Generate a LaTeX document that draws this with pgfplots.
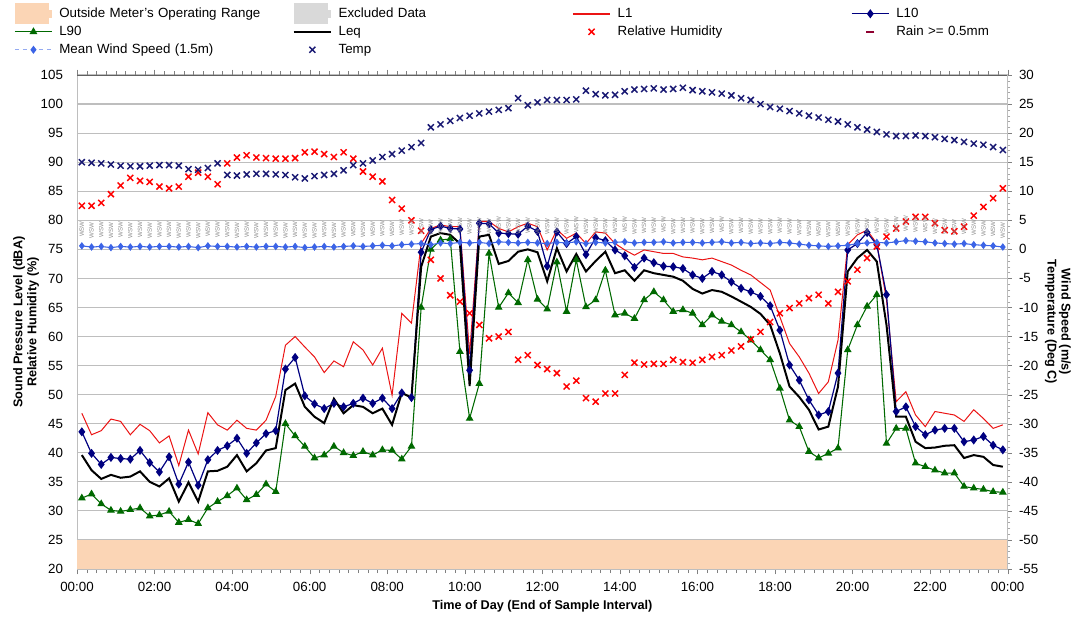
\documentclass[border=0pt]{standalone}
\usepackage{fontspec}
\setmainfont{Liberation Sans}
\usepackage{pgfplots}
\usepackage{pgfplotstable}
\pgfplotsset{compat=1.18}

\definecolor{bandorange}{RGB}{251,213,181}
\definecolor{lnavy}{RGB}{0,0,128}
\definecolor{lgreen}{RGB}{0,105,0}
\definecolor{tnavy}{RGB}{25,25,115}
\definecolor{wblue}{RGB}{60,100,230}
\definecolor{gridgray}{RGB}{190,190,190}
\definecolor{lred}{RGB}{235,20,20}

% 15-minute intervals, i = 1..96 (end of interval)
% L1 L10 L90 Leq in dBA, RH in %, Temp in deg C, Wind in m/s
\pgfplotstableread{
i L1 L10 L90 Leq RH Temp Wind
1 46.8 43.6 32.2 39.6 82.5 15.0 0.6
2 43.1 39.9 32.9 37.0 82.5 14.9 0.4
3 43.8 38.0 31.2 35.5 83.0 14.8 0.5
4 45.8 39.2 30.1 36.2 84.5 14.6 0.3
5 45.4 39.0 29.9 35.7 86.0 14.4 0.5
6 43.1 38.9 30.2 35.9 87.3 14.3 0.4
7 44.9 40.4 30.5 36.8 86.8 14.3 0.5
8 43.8 38.3 29.1 35.0 86.6 14.4 0.4
9 41.7 36.7 29.3 34.2 85.8 14.5 0.5
10 42.9 39.3 29.9 35.6 85.5 14.5 0.5
11 37.8 34.6 28.0 31.6 85.8 14.4 0.4
12 43.9 38.4 28.5 34.9 87.5 13.8 0.5
13 39.8 34.4 27.8 31.6 88.2 13.7 0.3
14 46.9 38.8 30.5 36.8 87.5 14.0 0.6
15 44.8 40.4 31.6 36.9 86.2 14.8 0.5
16 43.9 41.2 32.6 37.6 89.8 12.8 0.5
17 45.6 42.5 33.9 39.6 90.8 12.7 0.4
18 44.2 39.9 31.9 36.8 91.2 12.9 0.5
19 43.9 41.7 32.8 38.2 90.8 13.0 0.4
20 45.6 43.3 34.6 40.4 90.7 13.0 0.5
21 49.7 43.8 33.3 40.8 90.6 12.9 0.5
22 58.5 54.4 45.0 50.8 90.6 12.8 0.4
23 60.0 56.4 42.9 51.9 90.7 12.4 0.5
24 58.2 49.8 41.1 47.9 91.7 12.2 0.3
25 56.5 48.4 39.1 46.2 91.8 12.6 0.4
26 53.8 47.6 39.6 45.1 91.4 12.8 0.5
27 55.8 48.5 41.1 49.3 90.9 13.0 0.4
28 54.8 47.9 40.0 46.8 91.7 13.6 0.5
29 59.1 48.5 39.5 48.2 90.6 14.5 0.6
30 57.7 49.4 40.2 47.9 88.4 14.8 0.5
31 55.1 48.5 39.6 46.8 87.5 15.3 0.6
32 58.0 49.4 40.5 47.6 86.7 15.9 0.7
33 49.9 47.6 40.4 44.8 83.5 16.4 0.6
34 64.0 50.3 38.9 50.3 82.0 17.0 0.8
35 62.3 49.5 41.1 49.5 80.0 17.6 0.9
36 76.0 74.5 65.0 72.0 78.2 18.3 1.0
37 78.6 78.4 75.0 77.2 73.2 21.0 0.8
38 79.2 79.0 76.6 77.8 70.0 21.5 1.1
39 78.9 78.6 76.8 77.5 67.1 22.1 1.0
40 78.9 78.5 57.4 76.0 66.0 22.6 1.2
41 57.0 54.2 45.9 51.5 64.0 23.0 1.1
42 79.8 79.5 51.9 77.2 62.0 23.4 1.2
43 79.8 79.4 74.3 77.5 59.7 23.7 1.0
44 78.6 77.8 65.0 72.5 60.0 24.0 1.3
45 78.0 77.7 67.5 73.0 60.8 24.3 1.2
46 78.9 77.6 65.8 74.6 56.0 26.0 1.1
47 79.5 79.0 73.2 75.0 56.8 24.8 1.2
48 78.9 78.1 66.4 74.5 55.1 25.3 1.1
49 74.9 72.1 64.7 69.5 54.4 25.7 1.0
50 78.4 78.0 72.8 75.2 53.7 25.7 1.2
51 76.9 76.0 64.3 71.2 51.4 25.7 1.1
52 77.8 77.2 73.2 74.2 52.4 25.8 1.3
53 76.0 74.1 65.1 71.2 49.4 27.3 1.0
54 78.0 77.0 66.3 73.0 48.8 26.7 1.2
55 77.8 76.5 71.4 74.6 50.2 26.5 1.1
56 76.0 74.9 63.7 70.9 50.2 26.6 1.2
57 74.9 73.9 64.0 71.4 53.4 27.2 1.3
58 74.0 71.9 63.1 69.6 55.5 27.5 1.1
59 74.9 73.5 66.3 71.4 55.2 27.6 1.2
60 74.6 72.7 67.7 70.9 55.3 27.7 1.2
61 74.3 72.1 66.3 70.6 55.3 27.5 1.3
62 74.3 72.0 64.3 70.3 56.0 27.6 1.1
63 73.7 71.7 64.6 69.6 55.6 27.8 1.2
64 73.5 70.6 64.0 68.2 55.5 27.4 1.2
65 73.2 70.0 62.0 67.4 56.0 27.2 1.1
66 73.5 71.2 63.7 68.0 56.5 27.0 1.2
67 72.9 70.6 62.6 67.7 56.8 26.8 1.3
68 72.3 69.4 62.0 66.9 57.6 26.5 1.1
69 71.4 68.3 60.8 66.0 58.3 26.0 1.2
70 70.6 67.7 59.4 65.1 59.5 25.7 1.0
71 69.3 66.9 57.7 63.9 60.8 25.0 1.1
72 68.0 65.3 56.0 62.0 62.5 24.5 1.0
73 63.4 61.1 51.1 57.1 64.0 24.2 1.2
74 58.8 55.1 45.6 51.4 64.9 23.8 1.1
75 56.5 52.5 44.5 49.6 65.7 23.4 0.9
76 53.7 49.1 40.2 47.4 66.6 23.0 0.7
77 50.2 46.5 39.1 44.0 67.2 22.7 0.6
78 52.2 47.1 39.9 44.5 65.7 22.3 0.5
79 59.4 53.7 40.8 51.4 67.7 22.0 0.6
80 75.8 74.9 57.7 71.2 69.5 21.5 0.7
81 77.5 76.0 62.0 73.5 71.5 21.0 1.0
82 78.3 77.9 65.2 74.9 73.5 20.6 1.1
83 76.0 75.8 67.2 72.9 75.5 20.2 1.2
84 66.3 67.2 41.6 62.0 77.2 19.8 1.1
85 48.8 47.1 44.2 46.2 78.6 19.5 1.3
86 50.5 47.9 44.2 46.2 79.8 19.5 1.5
87 46.5 44.5 38.2 41.9 80.6 19.6 1.4
88 44.5 43.1 37.6 40.8 80.6 19.5 1.3
89 47.1 43.9 37.0 40.9 79.5 19.3 1.1
90 46.8 44.2 36.5 41.2 78.3 19.0 1.0
91 46.5 44.2 36.5 41.3 78.1 18.8 0.9
92 45.4 41.9 34.2 39.1 78.9 18.5 1.0
93 47.4 42.2 33.9 39.6 80.8 18.2 0.8
94 45.9 42.8 33.7 39.3 82.3 18.0 0.7
95 44.2 41.3 33.3 37.9 83.8 17.6 0.6
96 44.8 40.5 33.2 37.6 85.5 17.1 0.4
}\data

\pgfplotsset{
  patchlegend/.style={legend image code/.code={
      \fill[##1, overlay] (0pt,-8pt) rectangle (26pt,8pt);
      \path (0pt,-3pt) rectangle (28pt,3pt);}},
  commonaxis/.style={
    at={(0,0)}, anchor=south west,
    scale only axis, width=698pt, height=370.5pt,
    xmin=0.5, xmax=96.5,
    /pgf/number format/assume math mode=true,
    tick label style={font=\fontsize{10}{12}\selectfont},
  },
}

\begin{document}
\begin{tikzpicture}
\begin{axis}[
  commonaxis,
  ymin=20, ymax=105,
  ytick={20,25,...,105},
  ytick style={draw=none},
  yticklabel style={xshift=-3pt},
  xtick={0.5,8.5,...,96.5},
  xticklabels={00:00,02:00,04:00,06:00,08:00,10:00,12:00,14:00,16:00,18:00,20:00,22:00,00:00},
  minor x tick num=7,
  tick align=outside,
  major tick length=4pt, minor tick length=3pt,
  xtick style={gray},
  xticklabel style={yshift=-2pt},
  ymajorgrids, grid style={gridgray, line width=0.9pt},
  axis line style={gridgray},
  every axis y label/.style={at={(axis description cs:-0.0548,0.5)}, rotate=90, anchor=center,
    align=center, font=\bfseries\fontsize{9.5}{10.5}\selectfont},
  ylabel={Sound Pressure Level (dBA)\\Relative Humidity (\%)},
  every axis x label/.style={at={(axis description cs:0.5,-0.075)}, anchor=center,
    font=\bfseries\fontsize{9.5}{11}\selectfont},
  xlabel={Time of Day (End of Sample Interval)},
  legend image code/.code={\draw[mark repeat=2,mark phase=2,#1]
    plot coordinates {(0pt,0pt) (14pt,0pt) (28pt,0pt)};},
  legend style={
    at={(-0.072,1.1457)}, anchor=north west,
    draw=none, fill=none,
    legend columns=4,
    legend cell align=left,
    font=\fontsize{10}{12}\selectfont,
    nodes={inner sep=1pt, text height=7.5pt, text depth=2.2pt, text width=174pt},
    /tikz/every odd column/.append style={column sep=4pt},
    row sep=1.8pt,
  },
]
\addplot[fill=bandorange, draw=none, patchlegend] coordinates {(0.5,20) (0.5,25) (96.5,25) (96.5,20)} -- cycle;
\addlegendentry{Outside Meter's Operating Range}
\addlegendimage{fill=gray!30, draw=none, patchlegend}
\addlegendentry{Excluded Data}
\addplot[color=lred, line width=0.75pt, legend image post style={line width=1.3pt}] table[x=i, y=L1] {\data};
\addlegendentry{L1}
\addplot[lnavy, line width=0.9pt, mark=diamond*, mark size=2.7pt, mark options={fill=lnavy}] table[x=i, y=L10] {\data};
\addlegendentry{L10}
\addplot[lgreen, line width=0.8pt, mark=triangle*, mark size=2.6pt, mark options={fill=lgreen}] table[x=i, y=L90] {\data};
\addlegendentry{L90}
\addplot[black, line width=1.5pt] table[x=i, y=Leq] {\data};
\addlegendentry{Leq}
\addplot[only marks, red, mark=x, mark size=3.2pt, line width=1.1pt] table[x=i, y=RH] {\data};
\addlegendentry{Relative Humidity}
\addlegendimage{only marks, mark=-, mark size=3pt, line width=1.8pt, color=purple!75!black}
\addlegendentry{Rain >= 0.5mm}
\addlegendimage{wblue!55, dashed, line width=0.8pt, mark=diamond*, mark size=2.4pt, mark options={solid, fill=wblue, draw=wblue}}
\addlegendentry{Mean Wind Speed (1.5m)}
\addlegendimage{only marks, tnavy, mark=x, mark size=3.2pt, line width=1.1pt}
\addlegendentry{Temp}
\draw[gray!75!black, line width=1.2pt] (rel axis cs:0,1) -- (rel axis cs:1,1);
\end{axis}

\begin{axis}[
  commonaxis,
  ymin=-55, ymax=30,
  axis x line=none, axis y line*=right,
  ytick={-55,-50,...,30},
  minor y tick num=4,
  tick align=outside,
  major tick length=3pt, minor tick length=2pt,
  ytick style={gray}, minor y tick style={gray!70},
  y axis line style={gridgray},
  yticklabel style={xshift=2pt},
  every axis y label/.style={at={(axis description cs:1.054,0.5)}, rotate=-90, anchor=center,
    align=center, font=\bfseries\fontsize{9.5}{10.5}\selectfont},
  ylabel={Wind Speed (m/s)\\Temperature (Deg C)},
]
\addplot[wblue, line width=0.8pt, mark=diamond*, mark size=2.2pt, mark options={fill=wblue}] table[x=i, y=Wind] {\data};
\addplot[only marks, mark=text, text mark={WSW}, text mark as node=true,
  text mark style={gray!90, font=\fontsize{4.6}{5}\selectfont, rotate=90, anchor=west, inner sep=0pt, xshift=6.5pt}]
  table[x=i, y=Wind] {\data};
\addplot[only marks, tnavy, mark=x, mark size=3.2pt, line width=1.1pt] table[x=i, y=Temp] {\data};
\end{axis}
\pgfresetboundingbox
\path[use as bounding box] (-57.75pt,-36.75pt) rectangle (750pt,426.75pt);
\end{tikzpicture}
\end{document}
